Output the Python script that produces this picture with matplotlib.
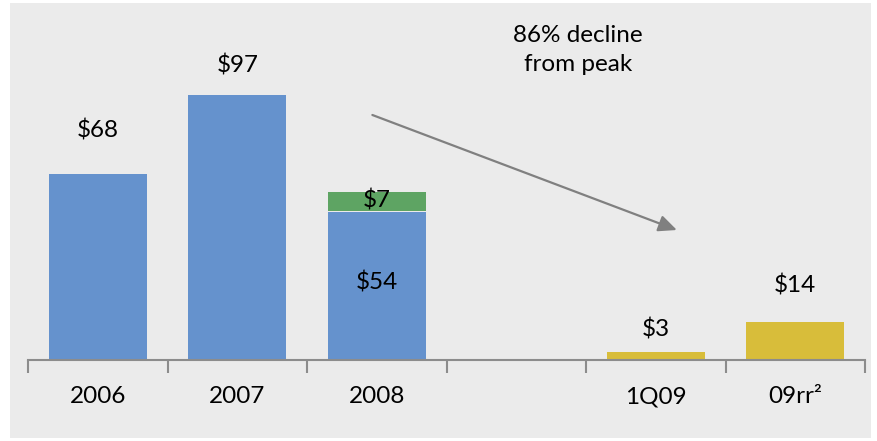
import numpy as np
import matplotlib.pyplot as plt
from matplotlib.patches import Rectangle

categories = ['2006', '2007', '2008', '', '1Q09', '09rr²']
base_vals = [68, 97, 54, 0, 0, 0]
extra_vals = [0, 0, 7, 0, 0, 0]
recent_vals = [0, 0, 0, 0, 3, 14]
labels = ['$68', '$97', '$54', '$7', '$3', '$14']

plt.rcParams['font.family'] = ['Lato', 'DejaVu Sans']
W, H = 877, 441
fig = plt.figure(figsize=(W / 100, H / 100), dpi=100)
fig.patches.append(Rectangle((10 / W, 3 / H), 861 / W, 435 / H, transform=fig.transFigure,
                             facecolor='#ebebeb', edgecolor='none', zorder=-10))
ax = fig.add_axes([28 / W, (H - 360) / H, 837 / W, 328 / H])
ax.set_zorder(5)
ax.patch.set_alpha(0)

x = np.arange(len(categories))
blue, green, yellow = '#6592cd', '#5ea463', '#d8bd3a'
ax.bar(x, base_vals, width=0.7, color=blue, zorder=2)
ax.bar(x, extra_vals, width=0.7, bottom=np.array(base_vals) + 0.6, color=green, zorder=2)
ax.bar(x, recent_vals, width=0.7, color=yellow, zorder=2)

fs = 17.5
# value labels (y in data units)
ax.text(0, 83.8, labels[0], ha='center', va='center', fontsize=fs)
ax.text(1, 107.6, labels[1], ha='center', va='center', fontsize=fs)
ax.text(2, 28.2, labels[2], ha='center', va='center', fontsize=fs)
ax.text(2, 58.2, labels[3], ha='center', va='center', fontsize=fs)
ax.text(4, 11.3, labels[4], ha='center', va='center', fontsize=fs)
ax.text(5, 27.1, labels[5], ha='center', va='center', fontsize=fs)

ax.annotate('', xy=(4.17, 47.2), xytext=(1.95, 90),
            arrowprops=dict(arrowstyle='-|>,head_length=1.1,head_width=0.5', color='#808080', lw=1.6))
ax.text(3.44, 113.5, '86% decline\nfrom peak', ha='center', va='center', fontsize=fs, linespacing=1.45)

ax.set_xlim(-0.5, len(categories) - 0.5)
ax.set_ylim(0, 120)
for s in ['top', 'right', 'left']:
    ax.spines[s].set_visible(False)
ax.spines['bottom'].set_color('#8c8c8c')
ax.spines['bottom'].set_linewidth(1.5)
ax.set_yticks([])
ax.set_xticks(x)
ax.set_xticklabels(categories, fontsize=fs)
ax.tick_params(axis='x', which='major', length=0, pad=19)
ax.set_xticks(np.arange(-0.5, len(categories)), minor=True)
ax.tick_params(axis='x', which='minor', length=9, width=1.5, color='#8c8c8c', direction='out')

fig.savefig('out.png', dpi=100, facecolor='white')
